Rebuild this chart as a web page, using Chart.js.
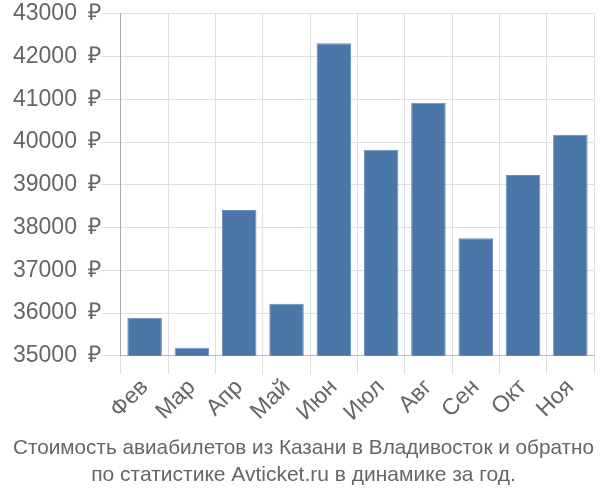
<!DOCTYPE html>
<html>
<head>
<meta charset="utf-8">
<script src="https://cdn.jsdelivr.net/npm/chart.js@4"></script>
<style>
  html, body { margin: 0; padding: 0; background: #fff; }
  #wrap { width: 600px; height: 500px; }
</style>
</head>
<body>
<div id="wrap"><canvas id="priceChart"></canvas></div>
<script>
const months = ['Фев', 'Мар', 'Апр', 'Май', 'Июн', 'Июл', 'Авг', 'Сен', 'Окт', 'Ноя']
const prices = [35890, 35190, 38410, 36220, 42310, 39820, 40920, 37750, 39230, 40170]
const titleLines = [
  'Стоимость авиабилетов из Казани в Владивосток и обратно',
  'по статистике Avticket.ru в динамике за год.'
]

;(() => {
  'use strict'

  const ctx = document.getElementById('priceChart')
  // eslint-disable-next-line no-unused-vars
  const myChart = new Chart(ctx, {
    type: 'bar',
    data: {
      labels: months,
      datasets: [{
        data: prices,
        backgroundColor: '#4a76a8',
        borderColor: '#6a8fbb',
        borderWidth: 1,
        barPercentage: 0.73,
        categoryPercentage: 1
      }]
    },
    options: {
      responsive: true,
      maintainAspectRatio: false,
      animation: false,
      layout: { padding: { top: 4, right: 6, left: 13, bottom: 11 } },
      plugins: {
        legend: { display: false },
        tooltip: { enabled: false },
        title: {
          display: true,
          position: 'bottom',
          text: titleLines,
          color: '#666',
          font: { family: 'Liberation Sans', size: 21, weight: 'normal', lineHeight: 1.3 },
          padding: { top: 8, bottom: 0 }
        }
      },
      scales: {
        x: {
          grid: { color: '#e0e0e0', tickLength: 18, offset: true },
          border: { color: '#bbb' },
          ticks: {
            color: '#666',
            font: { family: 'Liberation Sans', size: 23 },
            maxRotation: 45,
            minRotation: 45,
            padding: 0
          }
        },
        y: {
          min: 35000,
          max: 43000,
          grid: { color: '#e0e0e0', tickLength: 20 },
          border: { color: '#aaa' },
          ticks: {
            stepSize: 1000,
            color: '#666',
            font: { family: 'Liberation Sans', size: 23 },
            padding: 0,
            callback: v => v + ' \u2009₽'
          }
        }
      }
    }
  })
})()
</script>
</body>
</html>
